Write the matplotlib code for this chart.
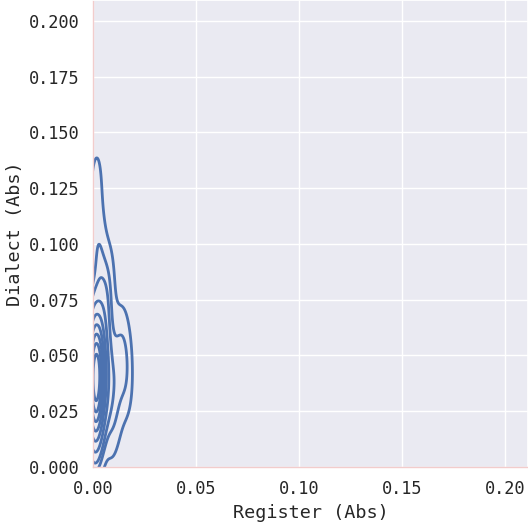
import matplotlib.pyplot as plt
import seaborn as sns

# register / dialect absolute values (one point per sample)
register = [0.000, 0.002, 0.000, 0.003, 0.001, 0.000, 0.004, 0.002, 0.003, 0.000,
            0.001, 0.000, 0.003, 0.002, 0.005, 0.000, 0.001, 0.003, 0.000, 0.004,
            0.001, 0.000, 0.003, 0.002, 0.000, 0.004, 0.001, 0.002, 0.000, 0.002,
            0.004, 0.000, 0.001, 0.003, 0.000, 0.002, 0.003, 0.000, 0.001, 0.005,
            0.000, 0.002, 0.003, 0.000, 0.001, 0.004, 0.002, 0.000, 0.003, 0.001,
            0.001, 0.000, 0.002, 0.001, 0.000, 0.003, 0.002, 0.004, 0.000, 0.001,
            0.007, 0.006, 0.008, 0.010, 0.011, 0.013, 0.012, 0.015, 0.014, 0.017,
            0.009, 0.016, 0.006, 0.009, 0.008, 0.002, 0.005, 0.001, 0.003, 0.007,
            0.002, 0.003]
dialect = [0.040, 0.035, 0.045, 0.030, 0.050, 0.042, 0.038, 0.025, 0.055, 0.048,
           0.032, 0.060, 0.044, 0.020, 0.036, 0.052, 0.041, 0.028, 0.065, 0.047,
           0.015, 0.039, 0.058, 0.034, 0.033, 0.043, 0.018, 0.062, 0.026, 0.046,
           0.049, 0.037, 0.037, 0.031, 0.022, 0.053, 0.054, 0.041, 0.027, 0.044,
           0.029, 0.057, 0.024, 0.039, 0.051, 0.035, 0.043, 0.046, 0.040, 0.021,
           0.048, 0.033, 0.017, 0.056, 0.059, 0.030, 0.038, 0.045, 0.012, 0.050,
           0.045, 0.068, 0.030, 0.055, 0.040, 0.048, 0.025, 0.042, 0.060, 0.035,
           0.030, 0.050, 0.075, 0.015, 0.088, 0.092, 0.080, 0.120, 0.105, 0.070,
           0.132, 0.090]

sns.set_theme(style='darkgrid')
plt.rcParams['font.family'] = ['DejaVu Sans Mono']

fig = plt.figure(figsize=(5.28, 5.24), dpi=100)
ax = fig.add_axes([93 / 528, 57 / 524, 435 / 528, 467 / 524])
sns.kdeplot(x=register, y=dialect, ax=ax, color='#4c72b0', linewidths=2,
            bw_adjust=1.25)

ax.set_xlim(0, 0.2112)
ax.set_ylim(0, 0.2094)
ax.set_xticks([0, 0.05, 0.10, 0.15, 0.20])
ax.set_xticklabels(['0.00', '0.05', '0.10', '0.15', '0.20'])
ax.set_yticks([0, 0.025, 0.05, 0.075, 0.1, 0.125, 0.15, 0.175, 0.2])
ax.set_yticklabels(['0.000', '0.025', '0.050', '0.075', '0.100', '0.125',
                    '0.150', '0.175', '0.200'])
ax.tick_params(labelsize=12.2)
ax.set_xlabel('Register (Abs)', fontsize=13.3)
ax.set_ylabel('Dialect (Abs)', fontsize=13.3)
for side in ['left', 'bottom']:
    ax.spines[side].set_visible(True)
    ax.spines[side].set_color('#f2cccc')
    ax.spines[side].set_linewidth(1)

fig.savefig('out.png', dpi=100)
